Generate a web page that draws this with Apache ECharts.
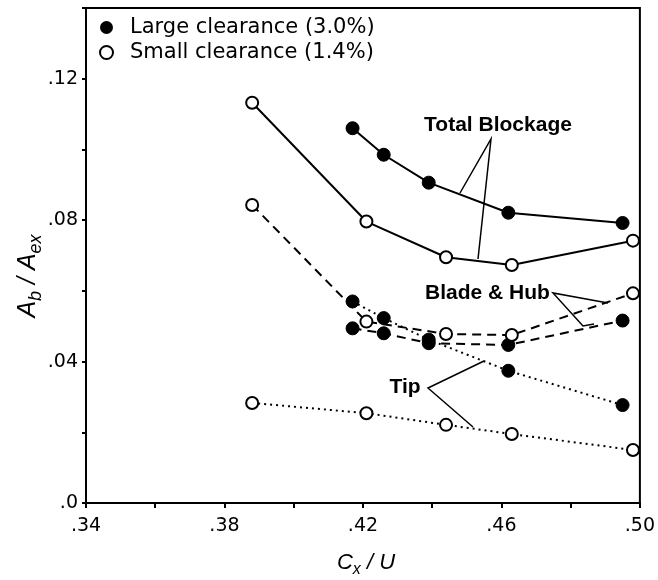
<!DOCTYPE html>
<html>
<head>
<meta charset="utf-8">
<script src="https://cdn.jsdelivr.net/npm/echarts@6/dist/echarts.min.js"></script>
<style>
html,body{margin:0;padding:0;background:#fff;}
#chart{width:658px;height:580px;}
</style>
</head>
<body>
<div id="chart"></div>
<script>
// ---- data ----
const xLarge = [0.417, 0.426, 0.439, 0.462, 0.495];
const xSmall = [0.388, 0.421, 0.444, 0.463, 0.498];
const totalLarge    = [0.1060, 0.0985, 0.0906, 0.0821, 0.0792];
const bladeHubLarge = [0.0494, 0.0480, 0.0452, 0.0447, 0.0516];
const tipLarge      = [0.0570, 0.0523, 0.0462, 0.0374, 0.0277];
const totalSmall    = [0.1132, 0.0796, 0.0695, 0.0673, 0.0742];
const bladeHubSmall = [0.0843, 0.0513, 0.0478, 0.0475, 0.0593];
const tipSmall      = [0.0283, 0.0254, 0.0221, 0.0195, 0.0150];
const xTickLabels = ['.34', '.38', '.42', '.46', '.50'];
const yTickLabels = ['.0', '.04', '.08', '.12'];
const legendNames = ['Large clearance (3.0%)', 'Small clearance (1.4%)'];

const FONT = '"DejaVu Sans", "Liberation Sans", Arial, sans-serif';
const BFONT = '"Liberation Sans", Arial, Helvetica, sans-serif';
const pairs = (xs, ys) => xs.map((x, i) => [x, ys[i]]);

function mkSeries(name, xs, ys, filled, lineType) {
  return {
    type: 'line', name: name, data: pairs(xs, ys),
    symbol: 'circle', symbolSize: filled ? 13 : 12,
    itemStyle: filled ? {color: '#000', borderColor: '#000', borderWidth: 1}
                      : {color: '#fff', borderColor: '#000', borderWidth: 2},
    lineStyle: {color: '#000', width: 2, type: lineType},
    emphasis: {disabled: true}, animation: false, z: filled ? 3 : 4
  };
}

const chart = echarts.init(document.getElementById('chart'), null, {renderer: 'canvas'});

function subRich(big, small) {
  return {
    a: {fontSize: big, fontStyle: 'italic', fontFamily: BFONT, color: '#000', lineHeight: big + 8, verticalAlign: 'middle'},
    s: {fontSize: small, fontStyle: 'italic', fontFamily: BFONT, color: '#000', lineHeight: small, verticalAlign: 'bottom'}
  };
}

chart.setOption({
  backgroundColor: '#fff',
  animation: false,
  grid: {left: 86, right: 18, top: 8, bottom: 77, show: true, borderColor: '#000', borderWidth: 2, containLabel: false},
  legend: {
    orient: 'vertical', left: 94, top: 12, itemWidth: 13, itemHeight: 13, itemGap: 4,
    selectedMode: false,
    textStyle: {fontSize: 21, fontFamily: FONT, color: '#000', padding: [0, 0, 0, 12]},
    data: [
      {name: legendNames[0], icon: 'circle', itemStyle: {color: '#000', borderColor: '#000', borderWidth: 0}},
      {name: legendNames[1], icon: 'circle', itemStyle: {color: '#fff', borderColor: '#000', borderWidth: 2}}
    ]
  },
  xAxis: {
    type: 'value', min: 0.34, max: 0.50, interval: 0.02,
    axisLine: {show: true, lineStyle: {color: '#000', width: 2}},
    axisTick: {show: true, inside: false, length: 5, lineStyle: {color: '#000', width: 2}},
    splitLine: {show: false},
    axisLabel: {
      margin: 14, fontSize: 19, fontFamily: FONT, color: '#000',
      formatter: v => { const k = Math.round(v * 100) - 34; return (k % 4 === 0) ? xTickLabels[k / 4] : ''; }
    }
  },
  yAxis: {
    type: 'value', min: 0, max: 0.14, interval: 0.02,
    axisLine: {show: true, lineStyle: {color: '#000', width: 2}},
    axisTick: {show: true, inside: false, length: 4, lineStyle: {color: '#000', width: 2}},
    splitLine: {show: false},
    axisLabel: {
      margin: 8, fontSize: 19, fontFamily: FONT, color: '#000',
      formatter: v => { const k = Math.round(v * 100); return (k % 4 === 0) ? (yTickLabels[k / 4] || '') : ''; }
    }
  },
  series: [
    mkSeries(legendNames[0], xLarge, totalLarge, true, 'solid'),
    mkSeries(legendNames[0], xLarge, bladeHubLarge, true, [9, 6]),
    mkSeries(legendNames[0], xLarge, tipLarge, true, [2, 4]),
    mkSeries(legendNames[1], xSmall, totalSmall, false, 'solid'),
    mkSeries(legendNames[1], xSmall, bladeHubSmall, false, [9, 6]),
    mkSeries(legendNames[1], xSmall, tipSmall, false, [2, 4])
  ],
  graphic: [
    {type: 'text', x: 28, y: 276, rotation: Math.PI / 2,
     style: {text: '{a|A}{s|b}{a| / A}{s|ex}', rich: subRich(25, 18), align: 'center', verticalAlign: 'middle'}},
    {type: 'text', x: 366, y: 563,
     style: {text: '{a|C}{s|x}{a| / U}', rich: subRich(22, 16), align: 'center', verticalAlign: 'middle'}},
    {type: 'text', x: 498, y: 125,
     style: {text: 'Total Blockage', fontSize: 21, fontWeight: 'bold', fontFamily: BFONT, fill: '#000', align: 'center', verticalAlign: 'middle'}},
    {type: 'polyline', shape: {points: [[460, 193], [491, 139], [478, 259]]}, style: {stroke: '#000', lineWidth: 1.5, fill: null}},
    {type: 'text', x: 425, y: 293,
     style: {text: 'Blade & Hub', fontSize: 21, fontWeight: 'bold', fontFamily: BFONT, fill: '#000', align: 'left', verticalAlign: 'middle'}},
    {type: 'polyline', shape: {points: [[608, 303], [553, 293], [583, 326], [594, 324]]}, style: {stroke: '#000', lineWidth: 1.5, fill: null}},
    {type: 'text', x: 405, y: 387,
     style: {text: 'Tip', fontSize: 21, fontWeight: 'bold', fontFamily: BFONT, fill: '#000', align: 'center', verticalAlign: 'middle'}},
    {type: 'polyline', shape: {points: [[484, 361], [428, 388], [473, 427]]}, style: {stroke: '#000', lineWidth: 1.5, fill: null}}
  ]
});
</script>
</body>
</html>
